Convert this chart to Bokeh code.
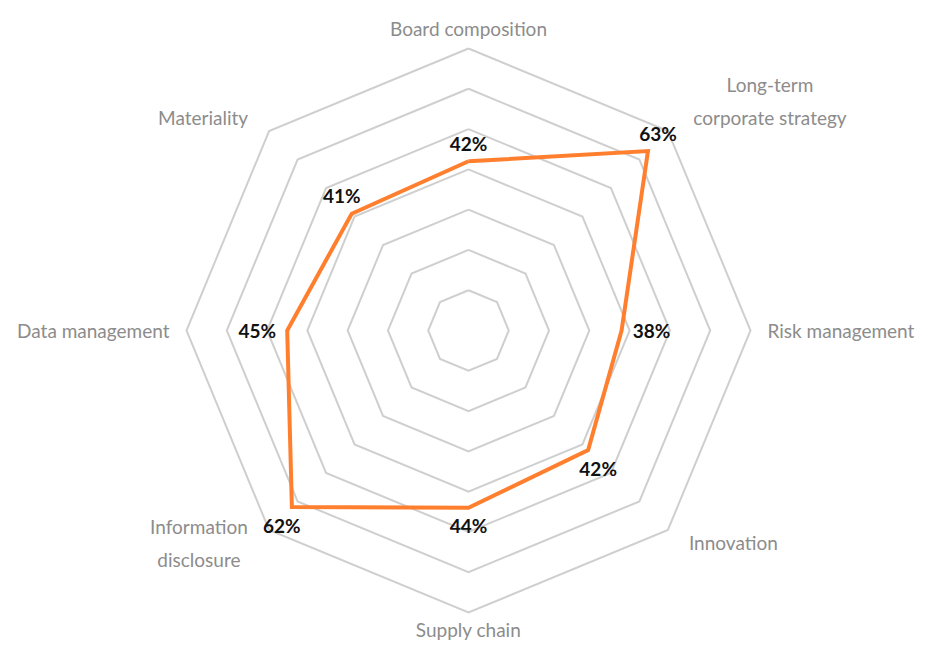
import numpy as np
from bokeh.plotting import figure
from bokeh.models import ColumnDataSource, Range1d
from bokeh.embed import file_html
from bokeh.resources import INLINE
from bokeh.core.properties import value

# ---- data ----
categories = ["Board composition", "Long-term\ncorporate strategy", "Risk management",
              "Innovation", "Supply chain", "Information\ndisclosure",
              "Data management", "Materiality"]
values = [42, 63, 38, 42, 44, 62, 45, 41]
ring_levels = [10, 20, 30, 40, 50, 60, 70]
value_labels = [f"{v}%" for v in values]

# ---- layout / style ----
W, H = 916, 642
CX, CY = 468, 330          # centre of the radar in pixels (from left / top)
R = 282                    # pixel radius of the outer ring
VMAX = ring_levels[-1]
FONT = "Lato"
CAT_SIZE = 19
GRID_COLOR = "#cfcfcf"
LINE_COLOR = "#FF7F2F"
CAT_COLOR = "#8c8c8c"

n = len(categories)
theta = np.arange(n) * 2 * np.pi / n
sx, cy = np.sin(theta), np.cos(theta)
sx = np.where(np.abs(sx) < 1e-9, 0.0, sx)
cy = np.where(np.abs(cy) < 1e-9, 0.0, cy)


def rad(v):
    return np.asarray(v, dtype=float) / VMAX * R


p = figure(width=W, height=H, output_backend="svg", toolbar_location=None,
           x_range=Range1d(-CX, W - CX), y_range=Range1d(-(H - CY), CY),
           min_border=0, outline_line_color=None)
p.axis.visible = False
p.grid.visible = False
p.background_fill_color = "white"
p.border_fill_color = "white"

# grid octagons
gx, gy = [], []
for lv in ring_levels:
    r = rad(lv)
    gx.append(list(r * sx) + [r * sx[0]])
    gy.append(list(r * cy) + [r * cy[0]])
p.multi_line(gx, gy, line_color=GRID_COLOR, line_width=2, line_join="miter")

# data polygon
rv = rad(values)
px = list(rv * sx) + [rv[0] * sx[0]]
py = list(rv * cy) + [rv[0] * cy[0]]
p.line(px, py, line_color=LINE_COLOR, line_width=4, line_join="miter")

# value labels: pushed outward, mostly above / below the point
dx = np.where(np.abs(cy) < 0.1, 30 * sx, 10 * np.sign(sx))
dy = 18 * np.sign(cy)
vsrc = ColumnDataSource(dict(x=rv * sx + dx, y=rv * cy + dy, t=value_labels))
p.text("x", "y", text="t", source=vsrc, text_font=value(FONT), text_font_style="bold",
       text_font_size="19px", text_color="#111111", text_align="center",
       text_baseline="middle")

# category labels
lx, ly, la, lb = [], [], [], []
for i, name in enumerate(categories):
    s, c = sx[i], cy[i]
    vx, vy = R * s, R * c
    if abs(s) < 0.1:
        lx.append(0.0)
        ly.append(R + 20 if c > 0 else -(R + 17))
        la.append("center"); lb.append("middle")
    elif abs(c) < 0.1:
        lx.append(np.sign(s) * (R + 17))
        ly.append(0.0)
        la.append("left" if s > 0 else "right"); lb.append("middle")
    else:
        lines = name.split("\n")
        if len(lines) > 1:
            est_w = max(len(t) for t in lines) * 0.48 * CAT_SIZE
            lx.append(vx + np.sign(s) * (20 + est_w / 2))
            la.append("center")
        else:
            lx.append(vx + np.sign(s) * 21)
            la.append("left" if s > 0 else "right")
        if c > 0:
            ly.append(vy + 2); lb.append("bottom")
        else:
            ly.append(vy - 13); lb.append("middle")

for i, name in enumerate(categories):
    p.text([lx[i]], [ly[i]], text=[name], text_font=value(FONT),
           text_font_size=f"{CAT_SIZE}px", text_color=CAT_COLOR,
           text_align=la[i], text_baseline=lb[i], text_line_height=1.45)

open("out.html", "w").write(file_html(p, INLINE))
